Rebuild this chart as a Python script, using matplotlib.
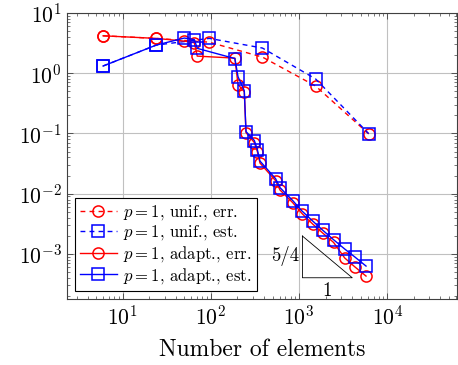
import matplotlib
matplotlib.use('Agg')
import matplotlib.pyplot as plt
import numpy as np

plt.rcParams['font.family'] = 'cmr10'
plt.rcParams['mathtext.fontset'] = 'cm'
plt.rcParams['axes.formatter.use_mathtext'] = True

# uniform refinement
n_unif = [6, 24, 96, 384, 1536, 6144]
err_unif = [4.15, 3.76, 3.25, 1.84, 0.61, 0.098]
est_unif = [1.31, 2.91, 3.76, 2.6, 0.80, 0.099]

# adaptive refinement
n_adapt = [6, 24, 50, 65, 70, 187, 203, 239, 250, 311, 336, 360,
           540, 607, 845, 1078, 1426, 1866, 2460, 3280, 4285, 5730]
err_adapt = [4.15, 3.76, 3.39, 3.18, 1.91, 1.77, 0.645, 0.49, 0.103, 0.0704,
             0.0499, 0.0322, 0.0165, 0.0115, 0.0071, 0.00468, 0.00313,
             0.0022, 0.00155, 0.00086, 0.00061, 0.00043]
est_adapt = [1.31, 2.91, 3.81, 3.59, 2.57, 1.74, 0.87, 0.51, 0.107, 0.076,
             0.054, 0.0347, 0.0178, 0.0126, 0.0077, 0.00515, 0.00351,
             0.00245, 0.00172, 0.00121, 0.00089, 0.00063]

# slope triangle
tri_x = [1090, 1090, 4000, 1090]
tri_y = [0.00198, 0.000403, 0.000403, 0.00198]

fig = plt.figure(figsize=(4.58, 3.65), dpi=100)
ax = fig.add_axes([0.1456, 0.18, 0.8524, 0.785])

mk = dict(markersize=8, markerfacecolor='none', markeredgewidth=1.1, linewidth=1.0)
ax.plot(n_unif, err_unif, 'r--', marker='o', dashes=(3.5, 3), label='$p=1$, unif., err.', **mk)
ax.plot(n_unif, est_unif, 'b--', marker='s', dashes=(3.5, 3), label='$p=1$, unif., est.', **mk)
ax.plot(n_adapt, err_adapt, 'r-', marker='o', label='$p=1$, adapt., err.', **mk)
ax.plot(n_adapt, est_adapt, 'b-', marker='s', label='$p=1$, adapt., est.', **mk)

ax.plot(tri_x, tri_y, 'k-', linewidth=0.6)
ax.text(1000, 0.00092, '5/4', ha='right', va='center', fontsize=13.5)
ax.text(2090, 0.00034, '1', ha='center', va='top', fontsize=13.5)

ax.set_xscale('log')
ax.set_yscale('log')
ax.set_xlim(2.32, 6.17e4)
ax.set_ylim(1.77e-4, 10)
ax.grid(True, which='major', color='#c0c0c0', linewidth=0.8)
ax.set_axisbelow(True)
ax.tick_params(which='both', direction='in', top=True, right=True, labelsize=15.5, colors='#404040',
               labelcolor='black')
ax.tick_params(which='major', length=4, width=0.6)
ax.tick_params(which='minor', length=2.2, width=0.5)
for s in ax.spines.values():
    s.set_color('#404040')
    s.set_linewidth(0.8)
ax.set_xlabel('Number of elements', fontsize=17, labelpad=8)

leg = ax.legend(loc='lower left', bbox_to_anchor=(0.021, 0.03), borderaxespad=0,
                fontsize=12, fancybox=False, edgecolor='black', framealpha=1,
                handlelength=2.2, handletextpad=0.4, labelspacing=0.1, borderpad=0.3)
leg.get_frame().set_linewidth(0.8)

fig.savefig('out.png', dpi=100)
